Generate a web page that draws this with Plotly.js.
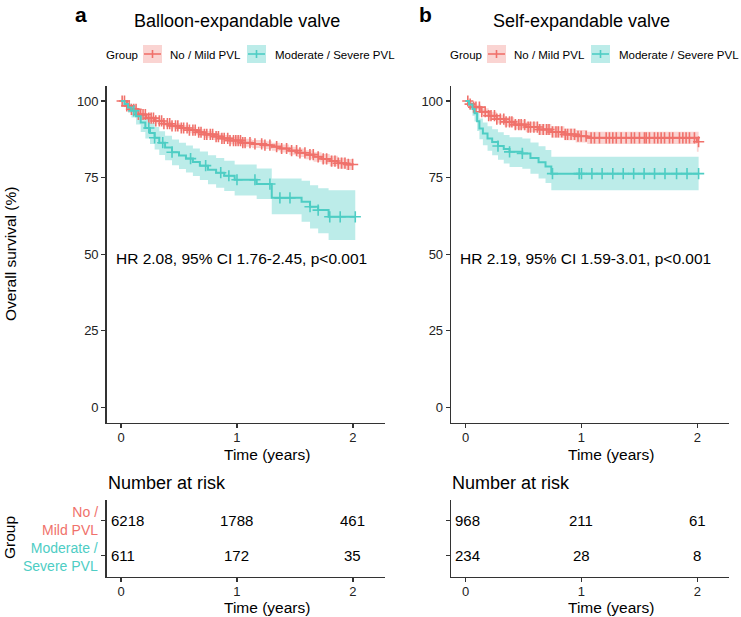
<!DOCTYPE html>
<html><head><meta charset="utf-8">
<script src="https://cdn.plot.ly/plotly-3.0.1.min.js"></script>
<style>html,body{margin:0;padding:0;background:#fff}#chart{width:741px;height:617px}</style>
</head><body><div id="chart"></div>
<script>
// ---------------- DATA ----------------
const groups = ["No / Mild PVL", "Moderate / Severe PVL"];
const panelTitles = ["Balloon-expandable valve", "Self-expandable valve"];
const panelLetters = ["a", "b"];
const hrLabels = ["HR 2.08, 95% CI 1.76-2.45, p<0.001", "HR 2.19, 95% CI 1.59-3.01, p<0.001"];
const yTicks = [0, 25, 50, 75, 100];
const xTicks = [0, 1, 2];
const riskTimes = [0, 1, 2];
const riskBalloonNoMild = [6218, 1788, 461];
const riskBalloonModSev = [611, 172, 35];
const riskSelfNoMild = [968, 211, 61];
const riskSelfModSev = [234, 28, 8];

// Balloon-expandable, No / Mild PVL
const balNoT  = [0, 0.05, 0.09, 0.15, 0.22, 0.29, 0.37, 0.44, 0.51, 0.58, 0.65, 0.72, 0.80, 0.87, 0.94, 1.04, 1.13, 1.23, 1.30, 1.37, 1.45, 1.52, 1.59, 1.66, 1.73, 1.80, 1.87, 1.94, 2.0];
const balNoS  = [100, 98.4, 97.3, 95.6, 94.4, 93.5, 92.6, 91.9, 91.2, 90.5, 89.8, 89.1, 88.4, 87.8, 87.1, 86.4, 86.0, 85.6, 85.1, 84.5, 83.8, 83.1, 82.5, 81.8, 81.1, 80.4, 79.7, 79.3, 79.1];
const balNoLo = [100, 98.0, 96.8, 95.0, 93.7, 92.7, 91.8, 91.0, 90.3, 89.5, 88.8, 88.0, 87.3, 86.7, 85.9, 85.1, 84.7, 84.3, 83.8, 83.2, 82.5, 81.7, 81.0, 80.2, 79.5, 78.7, 77.9, 77.5, 77.2];
const balNoHi = [100, 98.8, 97.8, 96.2, 95.1, 94.3, 93.4, 92.8, 92.1, 91.5, 90.8, 90.2, 89.5, 88.9, 88.3, 87.7, 87.3, 86.9, 86.4, 85.8, 85.1, 84.5, 83.9, 83.3, 82.7, 82.1, 81.5, 81.1, 81.0];
const balNoCens = [0.01, 0.03, 0.05, 0.07, 0.09, 0.11, 0.13, 0.15, 0.17, 0.19, 0.21, 0.24, 0.26, 0.28, 0.30, 0.33, 0.35, 0.37, 0.40, 0.42, 0.44, 0.47, 0.49, 0.52, 0.54, 0.57, 0.59, 0.62, 0.64, 0.67, 0.69, 0.72, 0.74, 0.77, 0.79, 0.82, 0.84, 0.87, 0.89, 0.92, 0.94, 0.97, 0.99, 1.01, 1.03, 1.05, 1.07, 1.112, 1.155, 1.213, 1.241, 1.284, 1.342, 1.385, 1.428, 1.471, 1.514, 1.543, 1.586, 1.629, 1.658, 1.70, 1.744, 1.773, 1.816, 1.845, 1.873, 1.902, 1.931, 1.96, 1.997];

// Balloon-expandable, Moderate / Severe PVL
const balModT  = [0, 0.03, 0.06, 0.09, 0.13, 0.17, 0.21, 0.25, 0.29, 0.33, 0.38, 0.44, 0.50, 0.56, 0.62, 0.68, 0.75, 0.82, 0.89, 0.98, 1.17, 1.30, 1.557, 1.63, 1.70, 1.79, 2.02];
const balModS  = [100, 99.0, 97.9, 96.8, 95.0, 93.0, 91.2, 89.6, 88.0, 86.4, 84.8, 83.3, 82.2, 81.2, 80.1, 78.9, 77.6, 76.6, 75.6, 74.3, 72.9, 68.4, 67.1, 65.5, 64.4, 62.2, 62.2];
const balModLo = [100, 98.0, 96.2, 94.6, 92.3, 89.9, 87.8, 86.0, 84.2, 82.4, 80.7, 79.0, 77.8, 76.7, 75.5, 74.2, 72.8, 71.7, 70.6, 69.2, 68.0, 63.0, 60.6, 58.4, 56.8, 54.6, 54.6];
const balModHi = [100, 99.7, 99.2, 98.5, 97.2, 95.7, 94.2, 92.8, 91.5, 90.1, 88.7, 87.4, 86.4, 85.5, 84.5, 83.5, 82.3, 81.4, 80.5, 79.3, 78.0, 74.7, 74.0, 72.5, 71.5, 70.9, 70.9];
const balModCens = [0.11, 0.24, 0.29, 0.36, 0.44, 0.60, 0.73, 0.86, 0.93, 1.0, 1.155, 1.284, 1.37, 1.457, 1.63, 1.70, 1.80, 1.89, 2.02];

// Self-expandable, No / Mild PVL
const selfNoT  = [0, 0.03, 0.07, 0.135, 0.2, 0.27, 0.336, 0.42, 0.52, 0.624, 0.74, 0.853, 0.95, 1.05, 1.995, 2.01];
const selfNoS  = [100, 99.0, 98.0, 96.5, 95.2, 94.1, 93.2, 92.3, 91.5, 90.7, 89.9, 89.1, 88.5, 88.0, 86.7, 86.7];
const selfNoLo = [100, 98.5, 97.2, 95.4, 93.9, 92.7, 91.7, 90.7, 89.8, 88.9, 88.0, 87.2, 86.5, 86.0, 83.4, 83.4];
const selfNoHi = [100, 99.5, 98.8, 97.6, 96.5, 95.5, 94.7, 93.9, 93.2, 92.5, 91.8, 91.0, 90.5, 90.0, 90.0, 90.0];
const selfNoCens = [0.02, 0.04, 0.07, 0.09, 0.12, 0.14, 0.17, 0.20, 0.22, 0.25, 0.27, 0.30, 0.33, 0.35, 0.38, 0.40, 0.43, 0.46, 0.48, 0.51, 0.54, 0.56, 0.59, 0.62, 0.64, 0.67, 0.70, 0.72, 0.75, 0.78, 0.80, 0.83, 0.86, 0.88, 0.91, 0.94, 0.97, 0.997, 1.04, 1.083, 1.112, 1.155, 1.213, 1.241, 1.27, 1.30, 1.342, 1.385, 1.43, 1.457, 1.50, 1.543, 1.558, 1.586, 1.629, 1.658, 1.687, 1.716, 1.759, 1.787, 1.845, 1.874, 1.902, 1.931, 1.974, 2.01];

// Self-expandable, Moderate / Severe PVL
const selfModT  = [0, 0.03, 0.06, 0.078, 0.10, 0.12, 0.15, 0.19, 0.23, 0.28, 0.33, 0.38, 0.49, 0.56, 0.63, 0.69, 0.74, 2.01];
const selfModS  = [100, 98.9, 97.4, 96.0, 93.4, 91.0, 89.4, 87.8, 86.6, 85.3, 84.3, 83.4, 82.9, 81.4, 80.0, 78.6, 76.3, 76.3];
const selfModLo = [100, 97.4, 95.2, 93.3, 90.2, 87.5, 85.6, 83.8, 82.3, 80.8, 79.6, 78.5, 77.9, 76.3, 74.7, 73.2, 70.9, 70.9];
const selfModHi = [100, 100, 99.2, 98.3, 96.2, 94.3, 93.0, 91.8, 90.8, 89.8, 88.9, 88.2, 87.8, 86.5, 85.2, 84.0, 81.8, 81.8];
const selfModCens = [0.28, 0.38, 0.49, 0.75, 0.98, 1.0, 1.09, 1.178, 1.27, 1.36, 1.45, 1.54, 1.63, 1.72, 1.82, 1.91, 2.01];

// ---------------- STYLE ----------------
const RED = "#F0716B", TEAL = "#4ECDC4";
const RED_FILL = "rgba(240,113,107,0.30)", TEAL_FILL = "rgba(78,205,196,0.38)";
const FONT = "Liberation Sans, Arial, sans-serif";
const W = 741, H = 617;
const px = x => x / W, py = y => 1 - y / H;

function stepAt(t, s, c) {
  let v = s[0];
  for (let i = 0; i < t.length; i++) { if (t[i] <= c) v = s[i]; }
  return v;
}
function km(t, s, lo, hi, cens, color, fill, xa, ya) {
  return {
    band: [
      {x: t, y: lo, xaxis: xa, yaxis: ya, mode: "lines", line: {shape: "hv", width: 0, color: fill}, hoverinfo: "skip", showlegend: false},
      {x: t, y: hi, xaxis: xa, yaxis: ya, mode: "lines", fill: "tonexty", fillcolor: fill, line: {shape: "hv", width: 0, color: fill}, hoverinfo: "skip", showlegend: false}
    ],
    line: [
      {x: t, y: s, xaxis: xa, yaxis: ya, mode: "lines", line: {shape: "hv", width: 2, color: color}, showlegend: false},
      {x: cens, y: cens.map(c => stepAt(t, s, c)), xaxis: xa, yaxis: ya, mode: "markers",
       marker: {symbol: "cross-thin", size: 8, color: color, line: {width: 1.6, color: color}}, showlegend: false}
    ]
  };
}
const k1 = km(balNoT, balNoS, balNoLo, balNoHi, balNoCens, RED, RED_FILL, "x", "y");
const k2 = km(balModT, balModS, balModLo, balModHi, balModCens, TEAL, TEAL_FILL, "x", "y");
const k3 = km(selfNoT, selfNoS, selfNoLo, selfNoHi, selfNoCens, RED, RED_FILL, "x2", "y2");
const k4 = km(selfModT, selfModS, selfModLo, selfModHi, selfModCens, TEAL, TEAL_FILL, "x2", "y2");
const traces = [...k1.band, ...k2.band, ...k3.band, ...k4.band, ...k1.line, ...k2.line, ...k3.line, ...k4.line];
traces.push({x: [0], y: [1], xaxis: "x3", yaxis: "y3", mode: "markers", marker: {opacity: 0}, hoverinfo: "skip", showlegend: false});
traces.push({x: [0], y: [1], xaxis: "x4", yaxis: "y4", mode: "markers", marker: {opacity: 0}, hoverinfo: "skip", showlegend: false});

const XR = [-0.125, 2.272];
const baseAxis = {
  showline: true, linecolor: "#333", linewidth: 1.3, ticks: "outside", ticklen: 4, tickwidth: 1.1, tickcolor: "#333",
  showgrid: false, zeroline: false, tickfont: {family: FONT, size: 13, color: "#222"}, fixedrange: true
};
const dL = [px(106.5), px(384.5)], dR = [px(451), px(729)];
const dKM = [py(422.7), py(85.7)], dRisk = [py(576.7), py(500)];
function xa(domain, anchor) { return Object.assign({}, baseAxis, {domain, anchor, range: XR, tickvals: xTicks, ticklabelstandoff: -2}); }
function yaKM(domain, anchor) { return Object.assign({}, baseAxis, {domain, anchor, range: [-5, 105], tickvals: yTicks}); }
function yaRisk(domain, anchor) { return Object.assign({}, baseAxis, {domain, anchor, range: [0.4, 2.6], tickvals: [1, 2], showticklabels: false}); }

const ann = [], shapes = [];
function txt(text, x, y, size, opts) {
  ann.push(Object.assign({text, x: px(x), y: py(y), xref: "paper", yref: "paper", showarrow: false,
    font: {family: FONT, size, color: "#000"}, xanchor: "center", yanchor: "middle"}, opts || {}));
}
const offs = [0, 344];
const riskRows = [[riskBalloonNoMild, riskBalloonModSev], [riskSelfNoMild, riskSelfModSev]];
const colors = [RED, TEAL], fills = [RED_FILL, TEAL_FILL];
for (let p = 0; p < 2; p++) {
  const o = offs[p];
  txt("<b>" + panelLetters[p] + "</b>", 81 + o, 14, 21);
  txt(panelTitles[p], 237 + o, 21, 18);
  txt("Group", 104 + o, 55, 11.5, {xanchor: "left"});
  const keyX = [143, 247], labX = [168, 273];
  for (let g = 0; g < 2; g++) {
    const x0 = keyX[g] + o, x1 = x0 + 19;
    shapes.push({type: "rect", xref: "paper", yref: "paper", x0: px(x0), x1: px(x1), y0: py(63), y1: py(45), fillcolor: fills[g], line: {width: 0}});
    shapes.push({type: "line", xref: "paper", yref: "paper", x0: px(x0 + 1), x1: px(x1 - 1), y0: py(54), y1: py(54), line: {color: colors[g], width: 1.6}});
    shapes.push({type: "line", xref: "paper", yref: "paper", x0: px((x0 + x1) / 2), x1: px((x0 + x1) / 2), y0: py(50), y1: py(58), line: {color: colors[g], width: 1.6}});
    txt(groups[g], labX[g] + o, 55, 11.5, {xanchor: "left"});
  }
  txt(hrLabels[p], 114 + o, 258, 15.5, {xanchor: "left"});
  txt("Time (years)", 267 + o, 454, 15.5);
  txt("Number at risk", 106 + o, 483, 18, {xanchor: "left"});
  txt("Time (years)", 267 + o, 607, 15.5);
  const xref = p === 0 ? "x3" : "x4", yref = p === 0 ? "y3" : "y4";
  for (let r = 0; r < 2; r++) {
    const vals = riskRows[p][r];
    for (let j = 0; j < riskTimes.length; j++) {
      const first = riskTimes[j] === 0;
      ann.push({text: String(vals[j]), xref, yref, x: first ? XR[0] : riskTimes[j], y: 2 - r,
        xanchor: first ? "left" : "center", xshift: first ? 2 : 0, yanchor: "middle", showarrow: false,
        font: {family: FONT, size: 15, color: "#000"}});
    }
  }
}
txt("Overall survival (%)", 10, 254, 15.5, {textangle: -90});
txt("Group", 9, 538, 15.5, {textangle: -90});
txt("No /<br>Mild PVL", 100, 521, 14, {xanchor: "right", align: "right", font: {family: FONT, size: 14, color: RED}});
txt("Moderate /<br>Severe PVL", 100, 557, 14, {xanchor: "right", align: "right", font: {family: FONT, size: 14, color: TEAL}});

const layout = {
  width: W, height: H, margin: {l: 0, r: 0, t: 0, b: 0}, paper_bgcolor: "#fff", plot_bgcolor: "#fff",
  showlegend: false, font: {family: FONT},
  xaxis: xa(dL, "y"), yaxis: yaKM(dKM, "x"),
  xaxis2: xa(dR, "y2"), yaxis2: yaKM(dKM, "x2"),
  xaxis3: xa(dL, "y3"), yaxis3: yaRisk(dRisk, "x3"),
  xaxis4: xa(dR, "y4"), yaxis4: yaRisk(dRisk, "x4"),
  annotations: ann, shapes: shapes
};
Plotly.newPlot("chart", traces, layout, {staticPlot: true, displayModeBar: false});
</script>
</body></html>
